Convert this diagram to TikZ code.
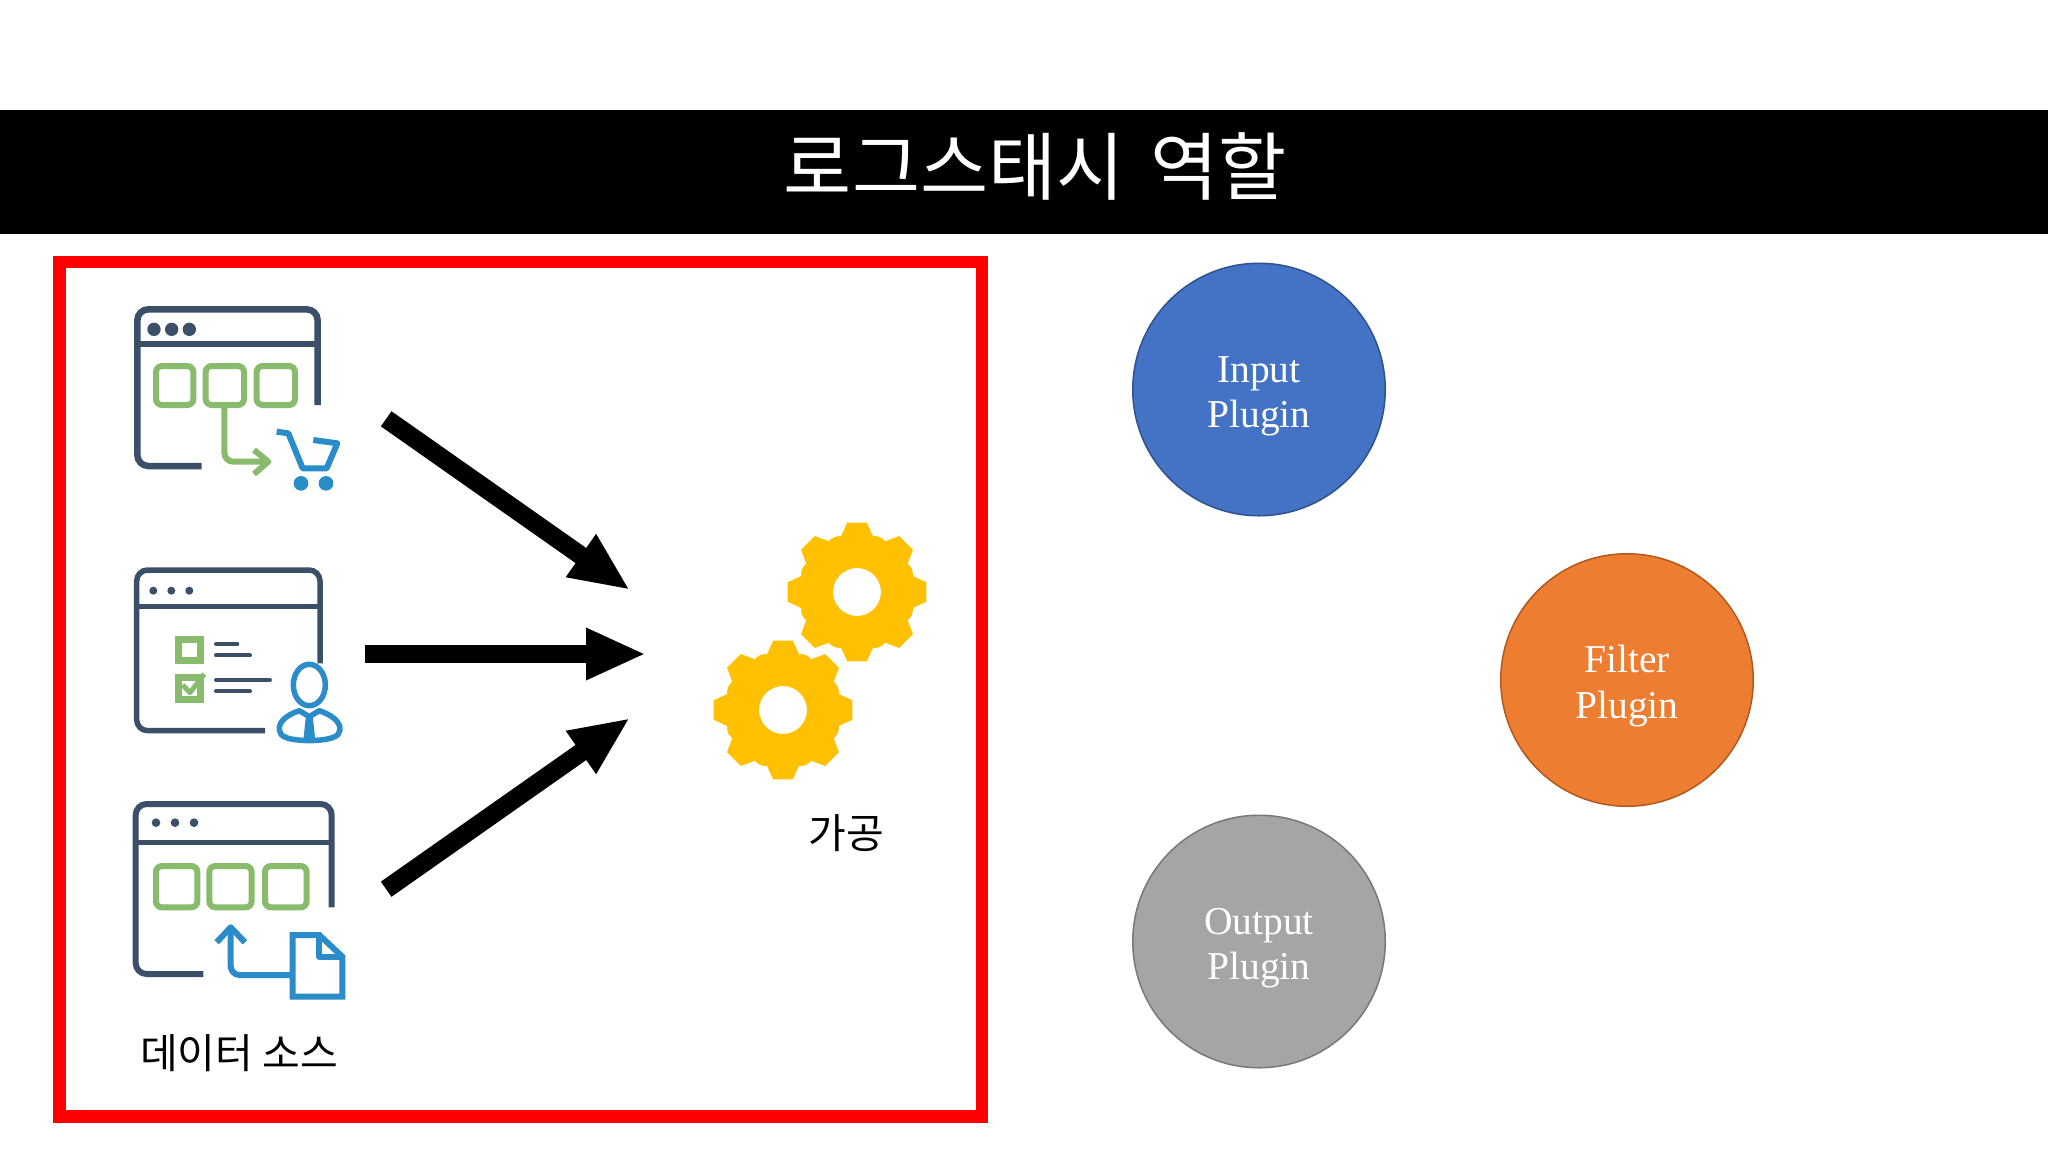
\documentclass[tikz,border=0pt]{standalone}
\usepackage{fontspec}
\setmainfont{Liberation Serif}
\newfontfamily\krfont{Noto Sans CJK KR}
\usetikzlibrary{arrows.meta}
\definecolor{navy}{HTML}{3B4F68}
\definecolor{lgreen}{HTML}{88BC6C}
\definecolor{iblue}{HTML}{2A8CC8}
\definecolor{gold}{HTML}{FFC000}
\definecolor{pblue}{HTML}{4472C4}
\definecolor{pblueline}{HTML}{2F528F}
\definecolor{porange}{HTML}{ED7D31}
\definecolor{porangeline}{HTML}{AE5A21}
\definecolor{pgray}{HTML}{A5A5A5}
\definecolor{pgrayline}{HTML}{787878}
\newcommand{\plug}[2]{\raisebox{0pt}[0pt][0pt]{\makebox[0pt]{\raisebox{7.3pt}{#1}}\makebox[0pt]{\raisebox{-38pt}{#2}}}}
\tikzset{
 plugin/.style={circle,minimum size=252.5pt,inner sep=0pt,line width=1.5pt,text=white,font=\fontsize{39.5}{45.7}\selectfont},
 krlabel/.style={inner sep=0pt,font=\krfont\fontsize{41}{48}\selectfont},
 bigarrow/.style={line width=18.5pt,-{Triangle[length=60pt,width=48pt]}},
 winline/.style={draw=navy,line width=6.5pt,rounded corners=11pt},
 winhead/.style={draw=navy,line width=6pt},
 greenbox/.style={draw=lgreen,line width=6pt,rounded corners=6pt},
 greenline/.style={draw=lgreen,line width=6pt},
 blueline/.style={draw=iblue,line width=5.5pt,line join=round},
 textline/.style={draw=navy,line width=4pt,line cap=round},
 icon/.style={x=0.33333pt,y=-0.33333pt},
 cog/.style={fill=gold,even odd rule}
}
\newcommand{\gearat}[2]{%
 \fill[cog,shift={(#1,#2)}] (-8:70)
 \foreach \a in {0,45,...,315}{
  -- (\a-8:70) -- (\a+8:70) -- (\a+16:58) -- (\a+19:59) -- (\a+22.5:59.5) -- (\a+26:59) -- (\a+29:58)
 } -- cycle (0,0) circle[radius=24];
}
\begin{document}
\begin{tikzpicture}[x=1pt,y=-1pt]
\useasboundingbox (0,0) rectangle (2048,1152);
\fill[white] (0,0) rectangle (2048,1152);
% title band
\fill[black] (0,110) rectangle (2048,233.5);
\node[inner sep=0pt,text=white,font=\krfont\fontsize{74}{86}\selectfont] (title) at (1035.5,166) {로그스태시\hspace{10pt} 역할};
% frame
\draw[red,line width=12.5pt] (59.7,262) rectangle (981.8,1116.5);
% circles
\node[plugin,fill=pblue,draw=pblueline] (input) at (1259,389.5) {\plug{Input}{Plugin}};
\node[plugin,fill=porange,draw=porangeline] (filter) at (1627,680) {\plug{Filter}{Plugin}};
\node[plugin,fill=pgray,draw=pgrayline] (output) at (1259,941.5) {\plug{Output}{Plugin}};
% arrows
\coordinate (a1s) at (386.2,418.8);
\coordinate (a1e) at (630,590);
\coordinate (a2s) at (365,654);
\coordinate (a2e) at (646,654);
\coordinate (a3s) at (386.2,889.2);
\coordinate (a3e) at (630,718);
\draw[bigarrow] (a1s) -- (a1e);
\draw[bigarrow] (a2s) -- (a2e);
\draw[bigarrow] (a3s) -- (a3e);
% gears
\gearat{857}{592}
\gearat{783}{710}
\node[krlabel] (gagong) at (846,833) {가공};
\node[krlabel] (source) at (239,1053) {데이터 소스};
% icon 1
\begin{scope}[icon,xshift=110pt,yshift=-280pt]
 \draw[winline] (275,558) -- (82,558) -- (82,88) -- (623,88) -- (623,375);
 \draw[winhead] (82,193) -- (623,193);
 \foreach \x in {132,185,238} \fill[navy] (\x,148) circle[radius=20];
 \foreach \x/\w in {138/250,287/402,440/555} \draw[greenbox] (\x,258) rectangle (\w,375);
 \draw[greenline,rounded corners=9pt] (343,375) -- (343,545) -- (470,545);
 \draw[greenline,line join=round] (432,510) -- (475,545) -- (432,582);
 \draw[blueline,line width=6pt] (500,455) -- (535,460) -- (578,565) -- (650,565) -- (682,490) -- (610,480);
 \fill[iblue] (573,610) circle[radius=22];
 \fill[iblue] (648,610) circle[radius=22];
\end{scope}
% icon 2
\begin{scope}[icon,xshift=110pt,yshift=-550pt]
 \draw[winline,line width=5.5pt] (465,542) -- (80,542) -- (80,60) -- (630,60) -- (630,340);
 \draw[winhead,line width=5.5pt] (80,170) -- (630,170);
 \foreach \x in {130,184,238} \fill[navy] (\x,122) circle[radius=12];
 \draw[greenline,line width=7pt] (205,268) rectangle (272,332);
 \draw[greenline,line width=7pt] (205,381) rectangle (272,447);
 \draw[greenline,line width=5pt,line join=round] (218,405) -- (240,428) -- (283,372);
 \draw[textline] (318,283) -- (382,283);
 \draw[textline] (318,316) -- (420,316);
 \draw[textline] (318,390) -- (480,390);
 \draw[textline] (318,424) -- (420,424);
 \fill[white] (598,405) ellipse[x radius=50,y radius=64];
 \draw[blueline] (598,405) ellipse[x radius=48,y radius=62];
 \filldraw[blueline,fill=white] (568,482) .. controls (530,495) and (505,515) .. (508,540) .. controls (510,560) and (530,570) .. (598,572) .. controls (665,570) and (688,560) .. (690,540) .. controls (692,515) and (665,495) .. (628,482) -- (598,500) -- cycle;
 \fill[iblue] (588,495) -- (608,495) -- (616,572) -- (580,572) -- cycle;
\end{scope}
% icon 3
\begin{scope}[icon,xshift=110pt,yshift=-780pt]
 \draw[winline,line width=6pt] (280,582) -- (77,582) -- (77,72) -- (665,72) -- (665,382);
 \draw[winhead,line width=5.5pt] (77,187) -- (665,187);
 \foreach \x in {138,195,252} \fill[navy] (\x,128) circle[radius=13];
 \foreach \x/\w in {138/262,298/425,465/590} \draw[greenbox] (\x,258) rectangle (\w,382);
 \draw[blueline,line width=6pt,rounded corners=9pt] (550,585) -- (362,585) -- (362,445);
 \draw[blueline,line width=6pt] (320,487) -- (362,442) -- (405,487);
 \draw[blueline,line width=6pt,line join=miter] (548,465) -- (628,465) -- (697,530) -- (697,650) -- (548,650) -- cycle;
 \draw[blueline,line width=6pt] (628,465) -- (628,530) -- (697,530);
\end{scope}
\end{tikzpicture}
\end{document}
